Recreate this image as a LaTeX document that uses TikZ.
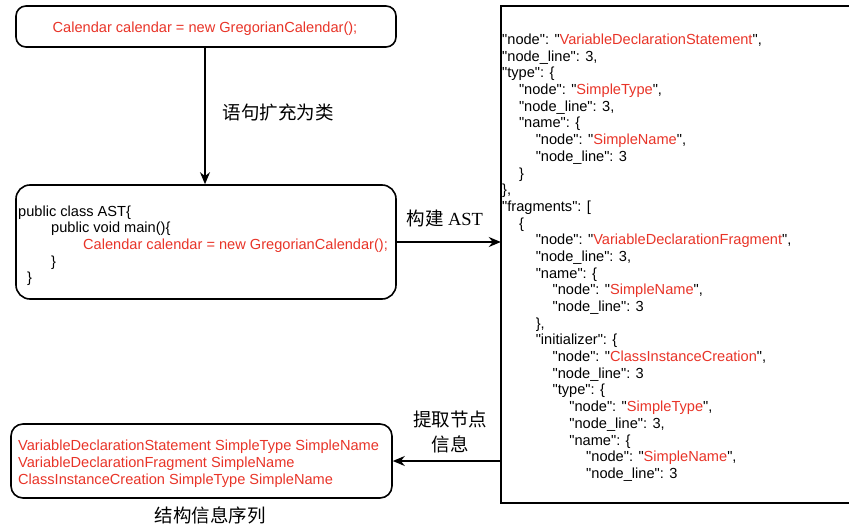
\documentclass[tikz,border=0pt]{standalone}
\usepackage{fontspec}
\setmainfont{Liberation Sans}[Ligatures=TeXOff]
\newfontfamily\cjk{Noto Sans CJK SC}
\newfontfamily\tms{Liberation Serif}
\usetikzlibrary{arrows.meta}
\definecolor{codered}{RGB}{232,52,40}
\newcommand{\rd}[1]{\textcolor{codered}{#1}}
\newcommand{\qq}{\symbol{34}}
\newcommand{\jl}[3]{\node[code] (j#1) at ({502+16.8*#2},{44.5+16.69*(#1-1)}) {#3};}
\begin{document}
\begin{tikzpicture}[x=1pt,y=-1pt,
  box/.style={draw=black, line width=1.6pt, rounded corners=10pt, inner sep=0pt},
  code/.style={font=\fontsize{14.6}{16.7}\selectfont, anchor=base west, inner sep=0pt},
  lab/.style={font=\cjk\fontsize{18.5}{25}\selectfont, inner sep=0pt, align=center},
  arr/.style={line width=1.6pt, -{Stealth[length=12pt,width=10pt]}}]
\useasboundingbox (0,0) rectangle (849,527);
% top box
\node[box, minimum width=380pt, minimum height=41pt] (top) at (206,26.5) {};
\node[code, anchor=base, text=codered] (toptxt) at (205,33) {Calendar calendar = new GregorianCalendar();};
% middle box
\node[box, rounded corners=14pt, minimum width=380pt, minimum height=114pt] (mid) at (206,242) {};
\node[code] (m1) at (18,216) {public class AST\{};
\node[code] (m2) at (51,232.7) {public void main()\{};
\node[code, text=codered] (m3) at (83,249.4) {Calendar calendar = new GregorianCalendar();};
\node[code] (m4) at (51,266) {\}};
\node[code] (m5) at (27,282.8) {\}};
% bottom box
\node[box, rounded corners=12pt, minimum width=381pt, minimum height=74pt] (bot) at (201.5,461) {};
\node[code, text=codered] (b1) at (18,450) {VariableDeclarationStatement SimpleType SimpleName};
\node[code, text=codered] (b2) at (18,467) {VariableDeclarationFragment SimpleName};
\node[code, text=codered] (b3) at (18,484) {ClassInstanceCreation SimpleType SimpleName};
% panel
\node[minimum width=348pt, minimum height=497pt, inner sep=0pt] (panel) at (675,254.5) {};
\draw[line width=1.6pt] (panel.north east) -- (panel.north west) -- (panel.south west) -- (panel.south east);
\jl{1}{0}{\qq node\qq: \qq\rd{VariableDeclarationStatement}\qq,}
\jl{2}{0}{\qq node\_line\qq: 3,}
\jl{3}{0}{\qq type\qq: \{}
\jl{4}{1}{\qq node\qq: \qq\rd{SimpleType}\qq,}
\jl{5}{1}{\qq node\_line\qq: 3,}
\jl{6}{1}{\qq name\qq: \{}
\jl{7}{2}{\qq node\qq: \qq\rd{SimpleName}\qq,}
\jl{8}{2}{\qq node\_line\qq: 3}
\jl{9}{1}{\}}
\jl{10}{0}{\},}
\jl{11}{0}{\qq fragments\qq: [}
\jl{12}{1}{\{}
\jl{13}{2}{\qq node\qq: \qq\rd{VariableDeclarationFragment}\qq,}
\jl{14}{2}{\qq node\_line\qq: 3,}
\jl{15}{2}{\qq name\qq: \{}
\jl{16}{3}{\qq node\qq: \qq\rd{SimpleName}\qq,}
\jl{17}{3}{\qq node\_line\qq: 3}
\jl{18}{2}{\},}
\jl{19}{2}{\qq initializer\qq: \{}
\jl{20}{3}{\qq node\qq: \qq\rd{ClassInstanceCreation}\qq,}
\jl{21}{3}{\qq node\_line\qq: 3}
\jl{22}{3}{\qq type\qq: \{}
\jl{23}{4}{\qq node\qq: \qq\rd{SimpleType}\qq,}
\jl{24}{4}{\qq node\_line\qq: 3,}
\jl{25}{4}{\qq name\qq: \{}
\jl{26}{5}{\qq node\qq: \qq\rd{SimpleName}\qq,}
\jl{27}{5}{\qq node\_line\qq: 3}
% connectors
\draw[arr] (top.south -| 205,0) -- (mid.north -| 205,0);
\draw[arr] (mid.east) -- (mid.east -| panel.west);
\draw[arr] (bot.east -| panel.west) -- (bot.east);
% labels
\node[lab] (l1) at (278,112) {语句扩充为类};
\node[lab] (l2) at (445,218) {构建 {\tms AST}};
\node[lab] (l3) at (450,432) {提取节点\\信息};
\node[lab] (l4) at (210,515) {结构信息序列};
\end{tikzpicture}
\end{document}
